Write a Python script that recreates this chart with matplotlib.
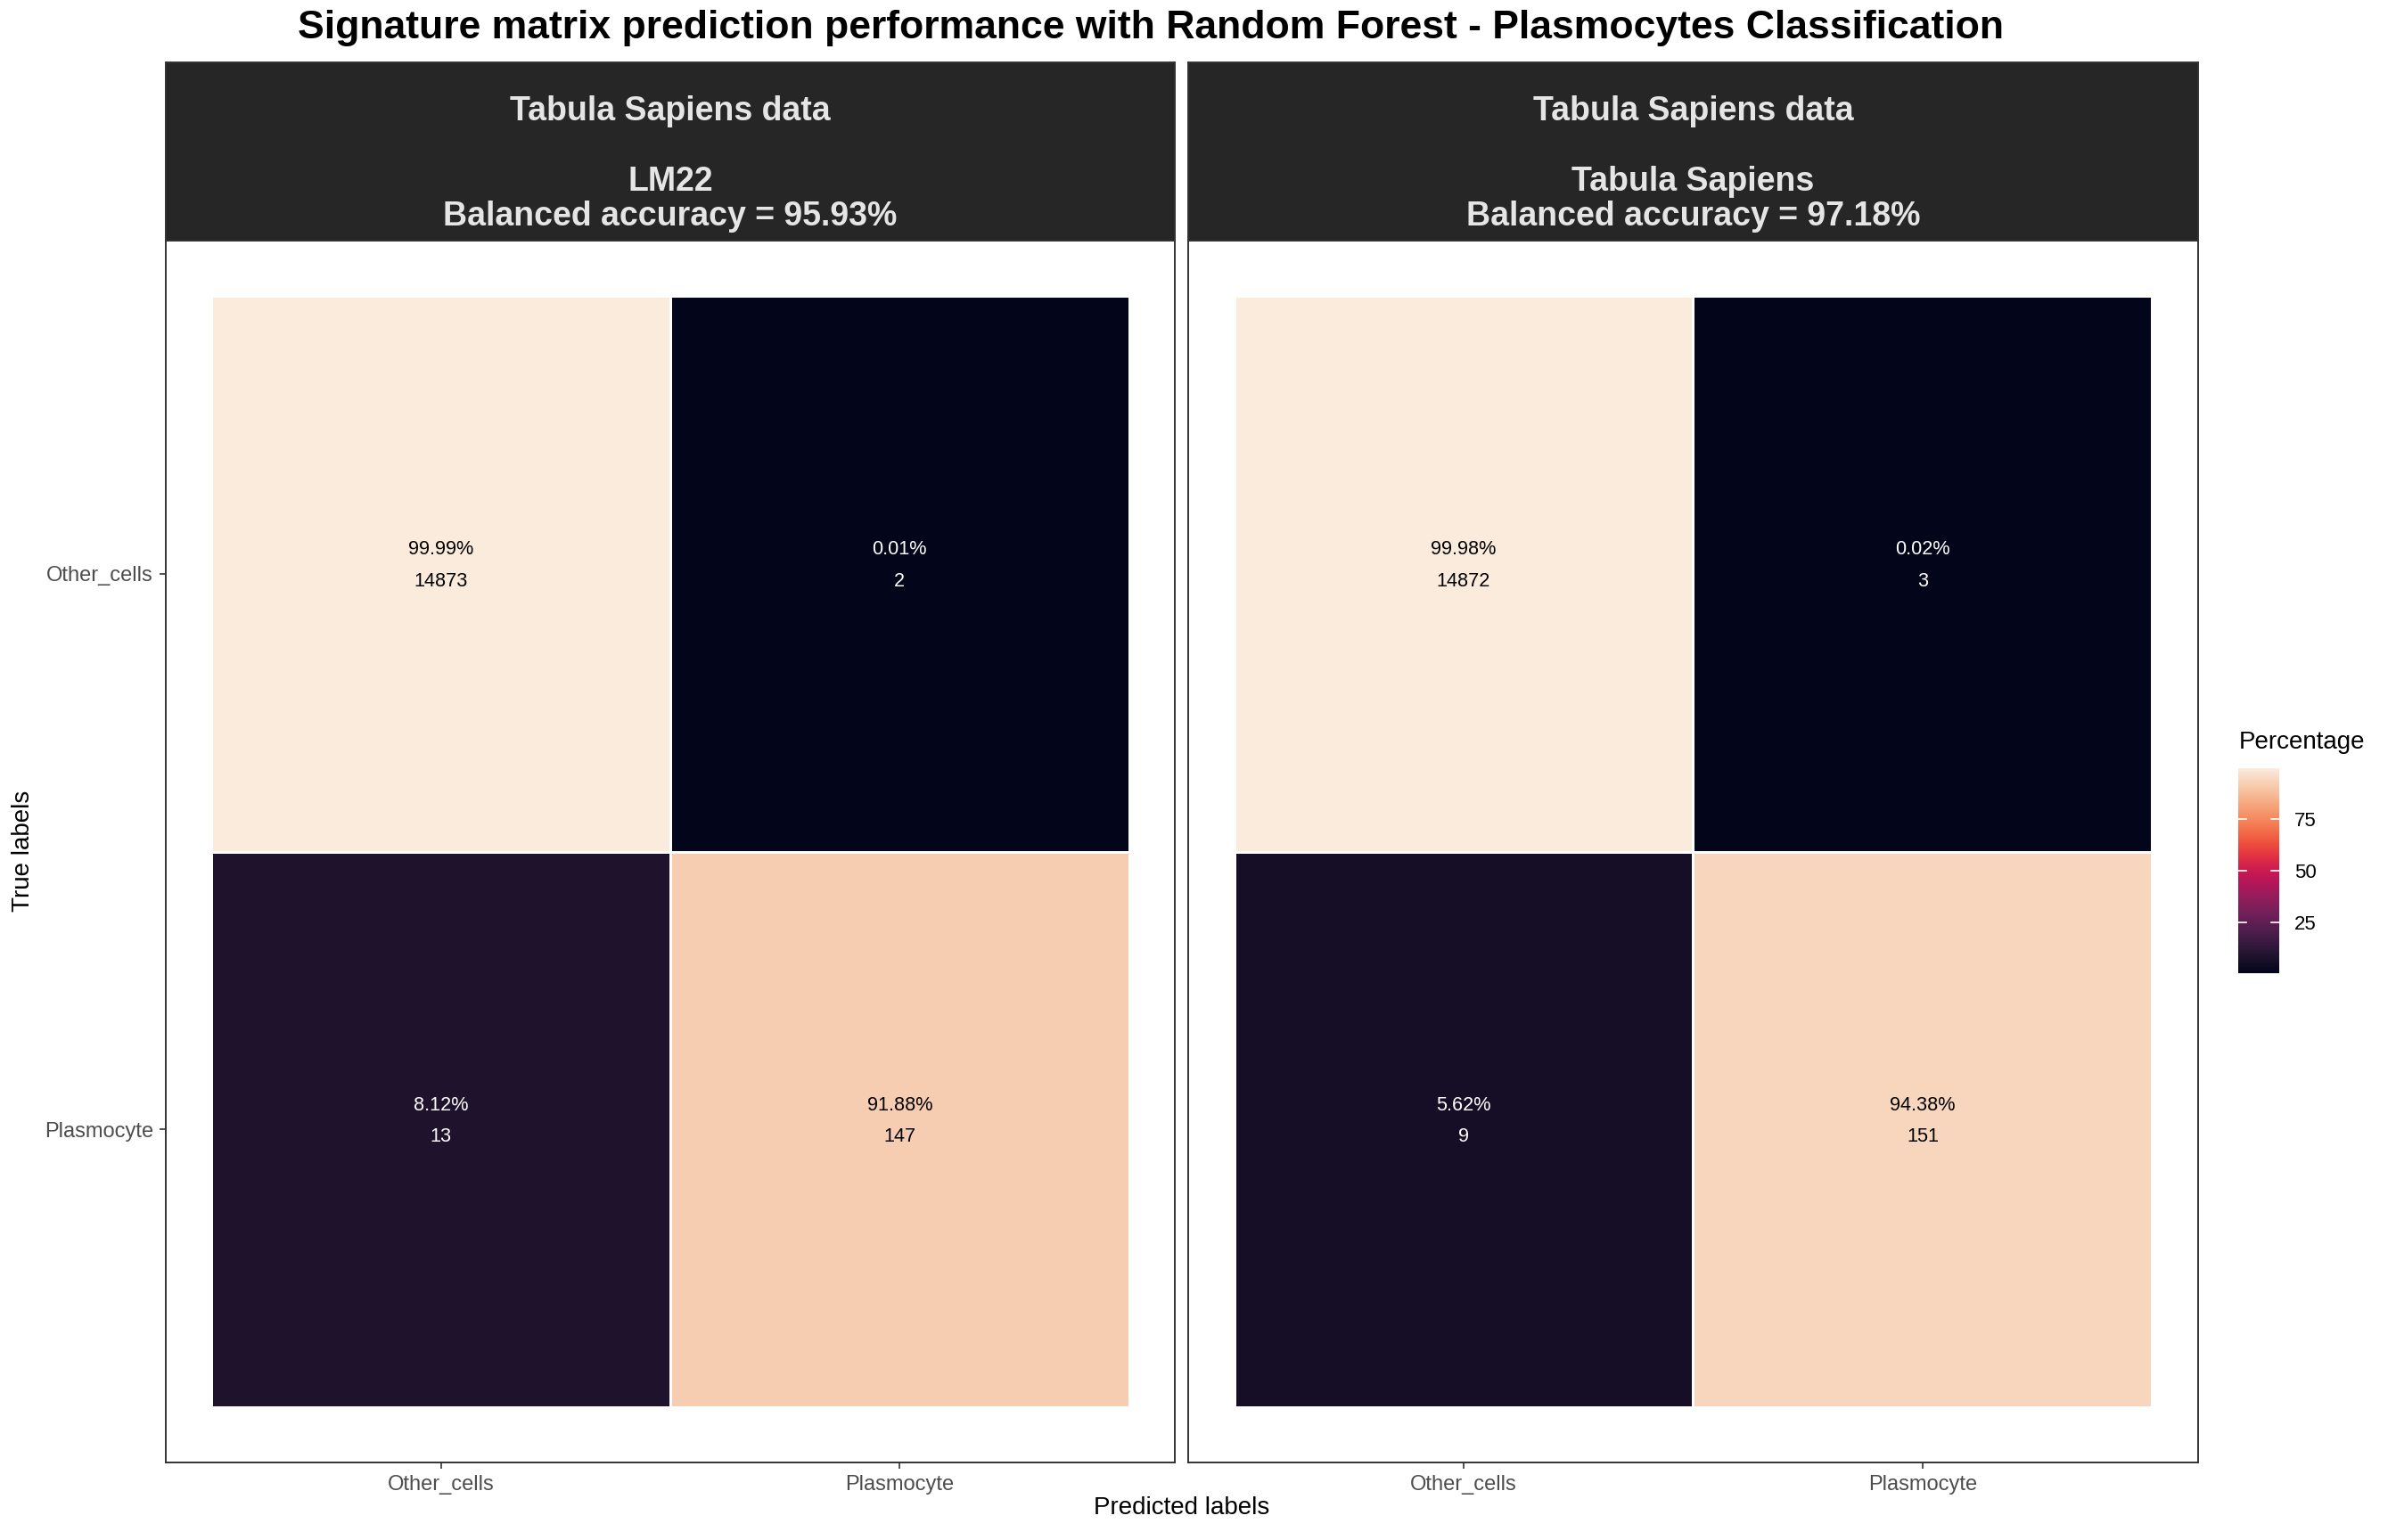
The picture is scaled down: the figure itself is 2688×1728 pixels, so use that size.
import matplotlib
matplotlib.use('Agg')
import matplotlib.pyplot as plt
import numpy as np
import seaborn as sns
from matplotlib.colors import Normalize

plt.rcParams['font.family'] = ['Liberation Sans', 'DejaVu Sans']

classes = ["Other_cells", "Plasmocyte"]
dataset = "Tabula Sapiens data"
signatures = ["LM22", "Tabula Sapiens"]
balanced_acc = [95.93, 97.18]
pct_lm22 = [[99.99, 0.01], [8.12, 91.88]]
cnt_lm22 = [[14873, 2], [13, 147]]
pct_ts = [[99.98, 0.02], [5.62, 94.38]]
cnt_ts = [[14872, 3], [9, 151]]

W, H = 2688, 1728
fig = plt.figure(figsize=(W / 200, H / 200), dpi=200)
cmap = sns.color_palette("rocket", as_cmap=True)
allv = np.array(pct_lm22 + pct_ts)
norm = Normalize(vmin=allv.min(), vmax=allv.max())

def fx(px):
    return px / W

def fy(py):
    return 1 - py / H

panels = [(186, 1318), (1333, 2466)]
top, bottom, strip_top = 270, 1641, 70
mats = [(pct_lm22, cnt_lm22), (pct_ts, cnt_ts)]
edges = np.array([0.5, 1.5, 2.5])

for k, ((x0, x1), (pct, cnt)) in enumerate(zip(panels, mats)):
    ax = fig.add_axes([fx(x0), fy(bottom), fx(x1 - x0), (bottom - top) / H])
    pct = np.array(pct)
    ax.pcolormesh(edges, edges, pct, cmap=cmap, norm=norm,
                  edgecolor='white', linewidth=1.0)
    for i in range(2):
        for j in range(2):
            col = 'black' if pct[i, j] > 50 else 'white'
            ax.text(j + 1, i + 1 - 0.015, f"{pct[i, j]:.2f}%\n{cnt[i][j]}",
                    ha='center', va='center', fontsize=7.8, color=col,
                    linespacing=1.9)
    ax.set_xlim(0.4, 2.6)
    ax.set_ylim(2.6, 0.4)
    ax.set_xticks([1, 2])
    ax.set_xticklabels(classes)
    ax.set_yticks([1, 2])
    if k == 0:
        ax.set_yticklabels(classes)
    else:
        ax.set_yticklabels([])
    ax.tick_params(labelsize=8.5, labelcolor='#4d4d4d', color='#333333',
                   length=2.5, width=0.6, pad=2.5)
    if k == 1:
        ax.tick_params(axis='y', length=0)
    for s in ax.spines.values():
        s.set_color('#333333')
        s.set_linewidth(0.7)

    sx = fig.add_axes([fx(x0), fy(top), fx(x1 - x0), (top - strip_top) / H])
    sx.set_facecolor('#262626')
    sx.set_xticks([])
    sx.set_yticks([])
    for s in sx.spines.values():
        s.set_color('#333333')
        s.set_linewidth(0.7)
    sx.text(0.5, 0.43, f"{dataset}\n\n{signatures[k]}\nBalanced accuracy = {balanced_acc[k]:.2f}%",
            transform=sx.transAxes, ha='center', va='center', fontsize=13.5,
            fontweight='bold', color='#e5e5e5', linespacing=1.12)

fig.text(fx(1291), fy(31), "Signature matrix prediction performance with Random Forest - Plasmocytes Classification",
         ha='center', va='center', fontsize=16, fontweight='bold')
fig.text(fx(1326), fy(1692), "Predicted labels", ha='center', va='center', fontsize=10)
fig.text(fx(26), fy(955), "True labels", ha='center', va='center', fontsize=10, rotation=90)

cax = fig.add_axes([fx(2511), fy(1092), fx(46), 230 / H])
cb = fig.colorbar(plt.cm.ScalarMappable(norm=norm, cmap=cmap), cax=cax)
cb.outline.set_visible(False)
cb.set_ticks([25, 50, 75])
cax.tick_params(labelsize=8, length=0, pad=6)
for t in [25, 50, 75]:
    cax.plot([0, 0.2], [t, t], color='white', lw=0.6, transform=cax.get_yaxis_transform())
    cax.plot([0.8, 1], [t, t], color='white', lw=0.6, transform=cax.get_yaxis_transform())
fig.text(fx(2512), fy(833), "Percentage", ha='left', va='center', fontsize=10)

fig.savefig("out.png", dpi=200)
